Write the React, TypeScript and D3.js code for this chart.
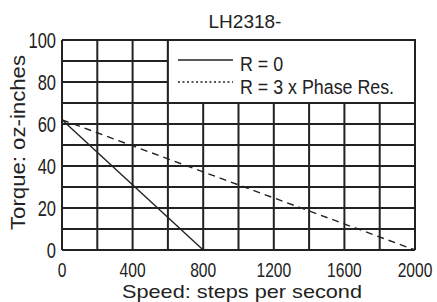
import React from 'react';
import * as d3 from 'd3';

const title = 'LH2318-';
const xTicks = [0, 400, 800, 1200, 1600, 2000];
const yTicks = [0, 20, 40, 60, 80, 100];
const xGrid = [0, 200, 400, 600, 800, 1000, 1200, 1400, 1600, 1800, 2000];
const yGrid = [0, 10, 20, 30, 40, 50, 60, 70, 80, 90, 100];

// torque curves: [speed, torque]
const seriesR0 = [[0, 62], [800, 0]];
const seriesR3 = [[0, 62], [2000, 0]];
const legendLabels = ['R = 0', 'R = 3 x Phase Res.'];

const W = 437;
const H = 302;
const ink = '#222';
const font = '"Liberation Sans", Arial, Helvetica, sans-serif';

const App = () => {
  const x = d3.scaleLinear().domain([0, 2000]).range([62, 415]);
  const y = d3.scaleLinear().domain([0, 100]).range([250, 40]);
  const line = d3.line<number[]>().x(d => x(d[0])).y(d => y(d[1]));

  // legend box sits in the upper right block of grid cells
  const lx0 = x(600), lx1 = x(2000), ly0 = y(100), ly1 = y(70);

  return (
    <svg width={W} height={H} style={{ position: 'absolute', left: 0, top: 0, background: '#fff' }}
      fontFamily={font}>
      <rect x={0} y={0} width={W} height={H} fill="#fff" />
      <text x={245} y={28} fontSize={19} textAnchor="middle" fill={ink}>{title}</text>

      {xGrid.map(v => (
        <line key={'gx' + v} x1={x(v)} x2={x(v)} y1={y(0)} y2={y(100)} stroke={ink} strokeWidth={2} />
      ))}
      {yGrid.map(v => (
        <line key={'gy' + v} x1={x(0)} x2={x(2000)} y1={y(v)} y2={y(v)} stroke={ink} strokeWidth={2} />
      ))}

      <rect x={lx0} y={ly0} width={lx1 - lx0} height={ly1 - ly0} fill="#fff" stroke={ink} strokeWidth={2} />
      <line x1={178} x2={233} y1={60} y2={60} stroke={ink} strokeWidth={1.3} />
      <line x1={178} x2={233} y1={82} y2={82} stroke={ink} strokeWidth={1.3} strokeDasharray="2,2.5" />
      <text transform="translate(240,71) scale(0.87,1)" fontSize={20.5} fill={ink}>{legendLabels[0]}</text>
      <text transform="translate(240,94) scale(0.87,1)" fontSize={20.5} fill={ink}>{legendLabels[1]}</text>

      <path d={line(seriesR0) || ''} fill="none" stroke={ink} strokeWidth={1.4} />
      <path d={line(seriesR3) || ''} fill="none" stroke={ink} strokeWidth={1.4} strokeDasharray="7,5" />

      {yTicks.map(v => (
        <text key={'yt' + v} transform={`translate(56,${y(v) + 8}) scale(0.75,1)`} fontSize={22}
          textAnchor="end" fill={ink}>{v}</text>
      ))}
      {xTicks.map(v => (
        <text key={'xt' + v} transform={`translate(${x(v)},277) scale(0.78,1)`} fontSize={20}
          textAnchor="middle" fill={ink}>{v}</text>
      ))}

      <text x={122} y={298} fontSize={19} textLength={240} lengthAdjust="spacingAndGlyphs"
        fill={ink}>Speed: steps per second</text>
      <text transform="translate(25,230) rotate(-90)" fontSize={20} textLength={175}
        lengthAdjust="spacingAndGlyphs" fill={ink}>
        Torque: oz-inches
      </text>
    </svg>
  );
};

export default App;
